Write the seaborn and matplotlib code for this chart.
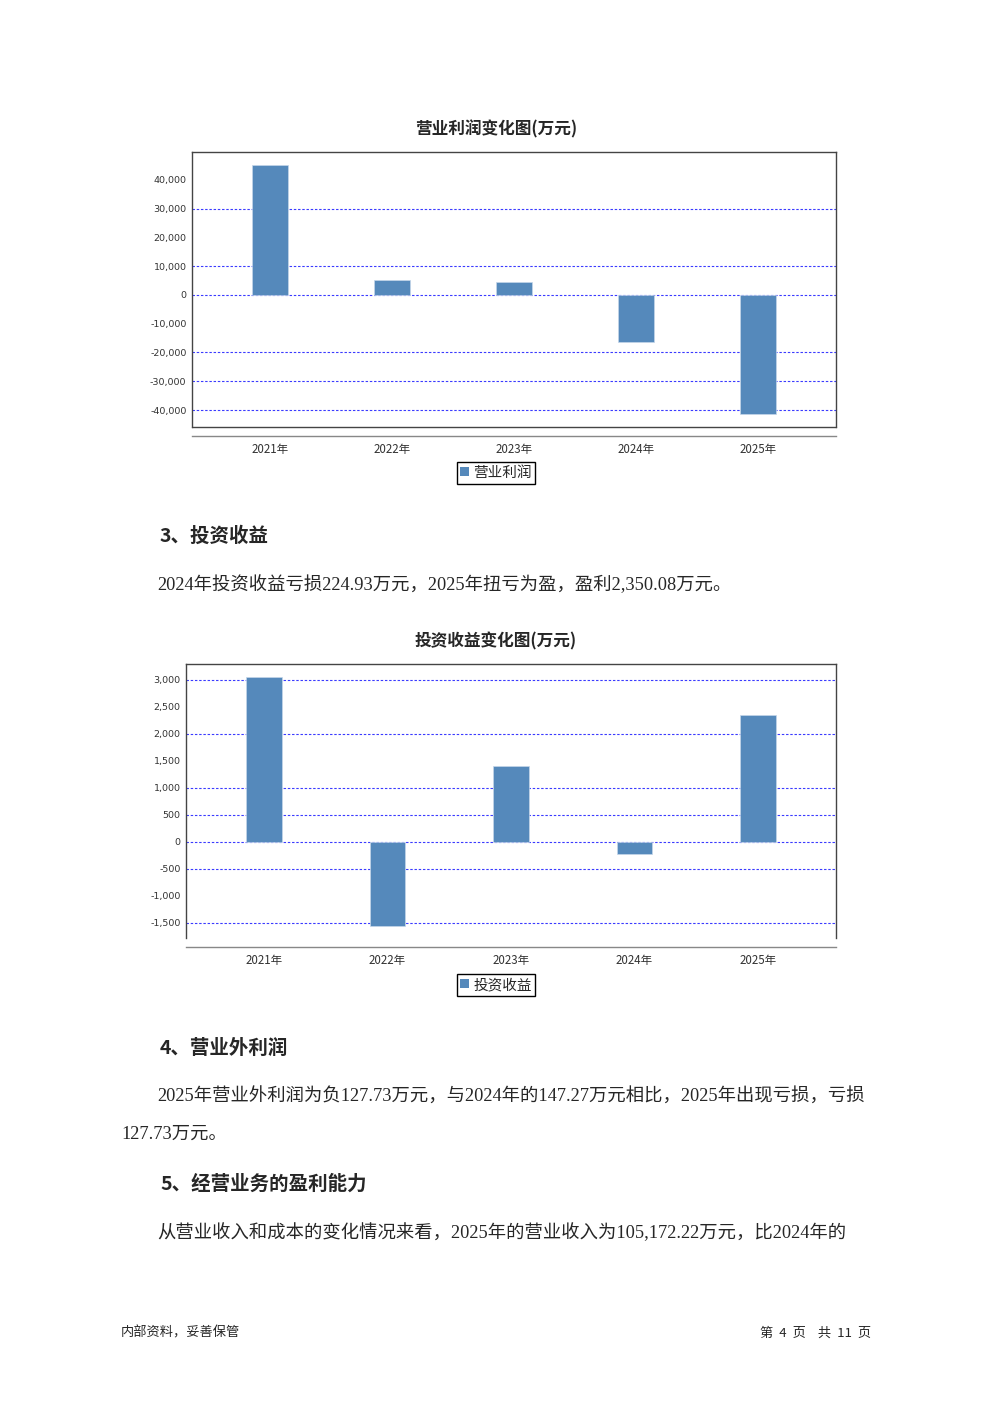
import numpy as np
import pandas as pd
import matplotlib.pyplot as plt
import seaborn as sns
from matplotlib.patches import Patch

# data
years = ['2021年', '2022年', '2023年', '2024年', '2025年']
op_profit = [45200, 5200, 4400, -16200, -41400]          # 营业利润 (万元)
inv_income = [3050, -1550, 1400, -224.93, 2350.08]       # 投资收益 (万元)
op_ticks = [40000, 30000, 20000, 10000, 0, -10000, -20000, -30000, -40000]
op_grid = [30000, 10000, 0, -20000, -30000, -40000]
inv_ticks = [3000, 2500, 2000, 1500, 1000, 500, 0, -500, -1000, -1500]
inv_grid = [3000, 2000, 1000, 500, 0, -500, -1500]

W, H = 992, 1403
bar_color = '#5589bb'
sans = ['Noto Sans CJK SC', 'DejaVu Sans']
tick_font = ['DejaVu Sans', 'Noto Sans CJK SC']
serif = ['Liberation Serif', 'Noto Sans CJK SC']

sns.set_style('white')
plt.rcParams['font.family'] = sans
fig = plt.figure(figsize=(W / 100, H / 100), dpi=100)


def box(l, t, r, b):
    return [l / W, 1 - b / H, (r - l) / W, (b - t) / H]


def ptext(x, y, s, **kw):
    fig.text(x / W, 1 - y / H, s, va='center', **kw)


def bar_chart(rect, values, ticks, grid, ylim, xlim, title, title_y, label, legend_y, frame_bottom):
    ax = fig.add_axes(box(*rect))
    df = pd.DataFrame({'year': years, 'value': values})
    sns.barplot(data=df, x='year', y='value', color=bar_color, saturation=1,
                width=0.29, edgecolor='#c5d7ea', linewidth=0.5, ax=ax, zorder=3)
    for g in grid:
        ax.axhline(g, color='#3b3bff', lw=0.8, ls=(0, (2.2, 1.6)), zorder=1)
    ax.set_ylim(*ylim)
    ax.set_xlim(*xlim)
    ax.set_yticks(ticks)
    ax.set_yticklabels([f'{t:,}' for t in ticks], family=tick_font)
    ax.set_xticks(range(len(years)))
    ax.set_xticklabels(years, family=tick_font)
    ax.set_xlabel('')
    ax.set_ylabel('')
    ax.tick_params(axis='y', length=0, pad=4, labelsize=6.8, labelcolor='#333333')
    ax.tick_params(axis='x', length=2, direction='out', color='#bbbbbb', pad=3,
                   labelsize=8.3, labelcolor='#333333')
    for s in ['left', 'top', 'right']:
        ax.spines[s].set_color('#444444')
        ax.spines[s].set_linewidth(1)
    ax.spines['bottom'].set_position(('outward', 6.8))
    ax.spines['bottom'].set_color('#888888')
    ax.spines['bottom'].set_linewidth(1)
    if frame_bottom:
        ax.plot([0, 1], [0, 0], transform=ax.transAxes, color='#444444', lw=1, clip_on=False)
    ptext(496, title_y, title, ha='center', fontsize=12, fontweight='bold')
    fig.legend(handles=[Patch(facecolor=bar_color, edgecolor='none', label=label)],
               loc='center', bbox_to_anchor=(496 / W, 1 - legend_y / H),
               fontsize=10.5, frameon=True, fancybox=False, edgecolor='black',
               framealpha=1, borderpad=0.25, handlelength=0.6, handleheight=0.6,
               handletextpad=0.3, borderaxespad=0)
    return ax


ax1 = bar_chart((192, 152, 836, 427), op_profit, op_ticks, op_grid, (-45900, 49700),
                (-0.64, 4.64), '营业利润变化图(万元)', 129, '营业利润', 473, True)
ax2 = bar_chart((186, 664, 836, 938), inv_income, inv_ticks, inv_grid, (-1778, 3296),
                (-0.63, 4.63), '投资收益变化图(万元)', 641, '投资收益', 985, False)

# page text
ptext(160, 536, '3、投资收益', fontsize=14, fontweight='bold')
ptext(157, 585, '2024年投资收益亏损224.93万元，2025年扭亏为盈，盈利2,350.08万元。',
      family=serif, fontsize=13.2)
ptext(160, 1048, '4、营业外利润', fontsize=14, fontweight='bold')
ptext(157, 1097, '2025年营业外利润为负127.73万元，与2024年的147.27万元相比，2025年出现亏损，亏损',
      family=serif, fontsize=13.2)
ptext(121, 1134, '127.73万元。', family=serif, fontsize=13.2)
ptext(160, 1184, '5、经营业务的盈利能力', fontsize=14, fontweight='bold')
ptext(157, 1233, '从营业收入和成本的变化情况来看，2025年的营业收入为105,172.22万元，比2024年的',
      family=serif, fontsize=13.2)
ptext(121, 1333, '内部资料，妥善保管', fontsize=9.5)
ptext(871, 1333, '第  4  页    共  11  页', ha='right', fontsize=9.5)

fig.savefig('out.png', dpi=100)
